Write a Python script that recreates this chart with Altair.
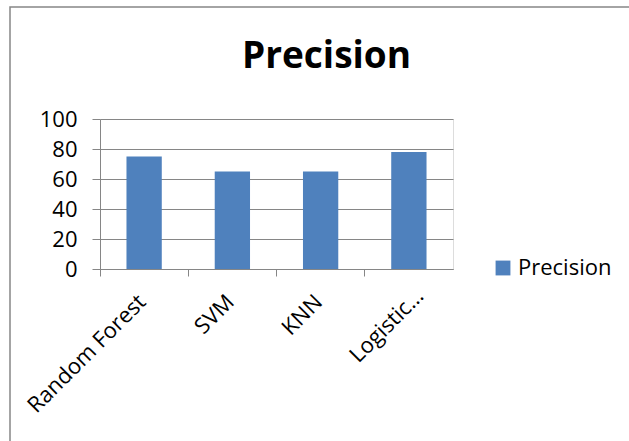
import altair as alt
import pandas as pd

models = ["Random Forest", "SVM", "KNN", "Logistic Regression"]
precision = [75, 65, 65, 78]
series = ["Precision"] * 4

df = pd.DataFrame({"Model": models, "Precision": precision, "Series": series})

FONT = "Open Sans"
GRAY = "#868686"

is_long = "length(datum.label) > 14"

bars = alt.Chart(df).mark_bar(width={"band": 0.4}, color="#4F81BD").encode(
    x=alt.X("Model:N", sort=models,
            scale=alt.Scale(paddingInner=0, paddingOuter=0),
            axis=alt.Axis(title=None, labelAngle=-45, labelAlign="right", labelBaseline="top",
                          labelFontSize=22, labelFont=FONT, labelColor="black",
                          labelExpr="length(datum.label) > 14 ? slice(datum.label, 0, 8) + '\u2026' : datum.label",
                          bandPosition=0, tickSize=7, tickColor=GRAY, domainColor=GRAY,
                          labelPadding={"condition": {"test": is_long, "value": 9}, "value": 15},
                          labelOffset={"condition": {"test": is_long, "value": 4}, "value": -9},
                          grid=False)),
    y=alt.Y("Precision:Q", scale=alt.Scale(domain=[0, 100]),
            axis=alt.Axis(title=None, values=[0, 20, 40, 60, 80, 100], labelFontSize=22,
                          labelFont=FONT, labelColor="black", tickSize=8, tickColor=GRAY,
                          domainColor=GRAY, gridColor=GRAY, labelPadding=15)),
    fill=alt.Fill("Series:N", scale=alt.Scale(range=["#4F81BD"]),
                  legend=alt.Legend(title=None, orient="none", legendX=392, legendY=138,
                                    symbolType="square", symbolSize=220, labelFontSize=22,
                                    labelFont=FONT, labelColor="black", symbolStrokeWidth=0)),
)

border = alt.Chart(pd.DataFrame({"a": [0]})).mark_rect(
    fill=None, stroke=GRAY, strokeWidth=1.5, clip=False
).encode(x=alt.value(-90), x2=alt.value(560), y=alt.value(-112), y2=alt.value(400))

chart = alt.layer(border, bars).properties(
    width=353, height=150,
    title=alt.Title("Precision", fontSize=37, font=FONT, fontWeight="bold", color="black",
                    anchor="middle", frame="group", offset=0, dx=50, dy=99,
                    baseline="alphabetic"),
    autosize=alt.AutoSizeParams(type="none"),
    padding={"left": 100, "top": 119, "right": 176, "bottom": 172},
).configure_view(stroke=None).configure(background="white")

chart.save("out.html", embed_options={"renderer": "svg", "actions": False})
